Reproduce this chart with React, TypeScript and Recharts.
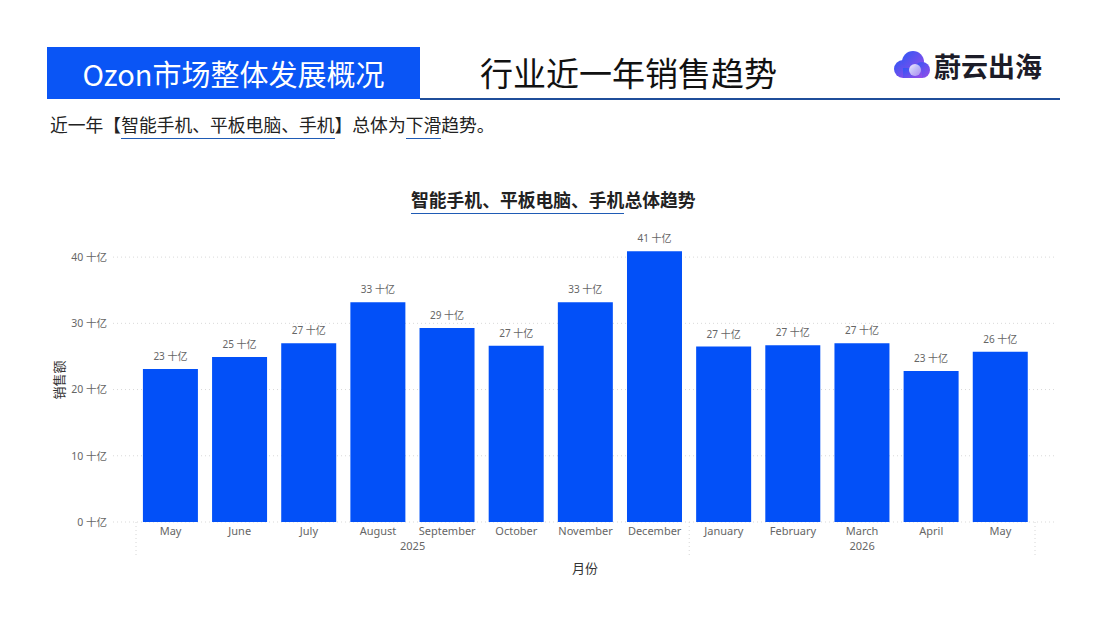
import { BarChart, Bar, XAxis, YAxis, CartesianGrid, LabelList } from "recharts";

// monthly sales of smartphones / tablets / phones, in 十亿
const months = [
    "May", "June", "July", "August", "September", "October", "November", "December",
    "January", "February", "March", "April", "May",
];
const years = [
    "2025", "2025", "2025", "2025", "2025", "2025", "2025", "2025",
    "2026", "2026", "2026", "2026", "2026",
];
const sales = [23.1, 24.9, 27.0, 33.2, 29.3, 26.6, 33.2, 40.9, 26.5, 26.7, 27.0, 22.8, 25.7];
const yTicks = [0, 10, 20, 30, 40];

const data = months.map((m, i) => ({ key: `${m}-${years[i]}`, month: m, year: years[i], sales: sales[i] }));

const W = 1107;
const H = 640;
const MARGIN = { top: 224, right: 52, bottom: 78, left: 53 };
const Y_AXIS_W = 60;
const PAD = { left: 23, right: 20 };
const BAND = (W - MARGIN.left - MARGIN.right - Y_AXIS_W - PAD.left - PAD.right) / months.length;

const BLUE = "#0250F8";
const FONT = "'Noto Sans', 'Noto Sans CJK SC', sans-serif";
const CJK = "'Noto Sans CJK SC', 'Noto Sans', sans-serif";

function MonthTick(props: any) {
    const { x, y, index } = props;
    const yr = years[index];
    const first = years.indexOf(yr);
    const last = years.lastIndexOf(yr);
    const mid = (first + last) / 2;
    const showYear = index === Math.floor(mid);
    const yearX = x + (mid - Math.floor(mid)) * BAND;
    return (
        <g>
            <text x={x} y={y + 13} textAnchor="middle" fontSize={11} fill="#666" fontFamily={FONT}>
                {months[index]}
            </text>
            {showYear && (
                <text x={yearX} y={y + 28} textAnchor="middle" fontSize={11} fill="#666" fontFamily={FONT}>
                    {yr}
                </text>
            )}
            {index === first && (
                <line x1={x - BAND / 2} x2={x - BAND / 2} y1={y} y2={y + 34} stroke="#d6d6d6" strokeDasharray="1 3" />
            )}
            {index === months.length - 1 && (
                <line x1={x + BAND / 2} x2={x + BAND / 2} y1={y} y2={y + 34} stroke="#d6d6d6" strokeDasharray="1 3" />
            )}
        </g>
    );
}

function ValueLabel(props: any) {
    const { x, y, width, value } = props;
    return (
        <text x={x + width / 2} y={y - 9} textAnchor="middle" fontSize={10} fill="#666" fontFamily={FONT}>
            {`${Math.round(Number(value))} 十亿`}
        </text>
    );
}

function CloudLogo() {
    return (
        <svg width={40} height={32} viewBox="0 0 40 32">
            <defs>
                <linearGradient id="cl" x1="0" y1="0" x2="1" y2="1">
                    <stop offset="0%" stopColor="#2f56f5" />
                    <stop offset="100%" stopColor="#9a4de8" />
                </linearGradient>
                <linearGradient id="cl2" x1="0" y1="0" x2="1" y2="1">
                    <stop offset="0%" stopColor="#ffffff" stopOpacity={0.9} />
                    <stop offset="100%" stopColor="#c9b8f5" stopOpacity={0.6} />
                </linearGradient>
            </defs>
            <circle cx={11} cy={19} r={9} fill="url(#cl)" />
            <circle cx={21} cy={12} r={11} fill="url(#cl)" />
            <circle cx={30} cy={20} r={8} fill="url(#cl)" />
            <rect x={11} y={18} width={19} height={10} fill="url(#cl)" />
            <circle cx={23} cy={20} r={6} fill="url(#cl2)" />
        </svg>
    );
}

const ul = { borderBottom: "1.5px solid #1F5BB5", paddingBottom: 1 };

export default function App() {
    return (
        <div style={{ position: "fixed", left: 0, top: 0, width: W, height: H, background: "#fff", overflow: "hidden", fontFamily: CJK }}>
            {/* header */}
            <div style={{ position: "absolute", left: 47, top: 47, width: 373, height: 52, background: "#0A55F5", color: "#fff", display: "flex", alignItems: "center", justifyContent: "center", fontSize: 29 }}>
                Ozon市场整体发展概况
            </div>
            <div style={{ position: "absolute", left: 420, top: 98, width: 640, height: 2, background: "#1F4E9A" }} />
            <div style={{ position: "absolute", left: 480, top: 52, fontSize: 33, lineHeight: "40px", color: "#111" }}>行业近一年销售趋势</div>
            <div style={{ position: "absolute", left: 892, top: 50, display: "flex", alignItems: "center", gap: 2 }}>
                <CloudLogo />
                <span style={{ fontSize: 27, fontWeight: 700, color: "#1c1c28", lineHeight: "32px" }}>蔚云出海</span>
            </div>

            {/* summary */}
            <div style={{ position: "absolute", left: 50, top: 113, fontSize: 17.8, lineHeight: "22px", color: "#222", whiteSpace: "nowrap" }}>
                近一年【<span style={ul}>智能手机、平板电脑、手机</span>】总体为<span style={ul}>下滑</span>趋势。
            </div>

            {/* chart title */}
            <div style={{ position: "absolute", left: 411, top: 187, fontSize: 17.8, fontWeight: 700, lineHeight: "24px", color: "#222", whiteSpace: "nowrap" }}>
                <span style={ul}>智能手机、平板电脑、手机</span>总体趋势
            </div>

            <div style={{ position: "absolute", left: 58, top: 380, transform: "translate(-50%, -50%) rotate(-90deg)", fontSize: 13, color: "#333", whiteSpace: "nowrap" }}>
                销售额
            </div>
            <div style={{ position: "absolute", left: 585, top: 567, transform: "translate(-50%, -50%)", fontSize: 13, color: "#333" }}>
                月份
            </div>

            <div style={{ position: "absolute", left: 0, top: 0 }}>
                <BarChart width={W} height={H} data={data} margin={MARGIN} barCategoryGap="10%">
                    <CartesianGrid vertical={false} stroke="#d9d9d9" strokeDasharray="1 3" syncWithTicks />
                    <XAxis
                        dataKey="key"
                        interval={0}
                        axisLine={false}
                        tickLine={false}
                        tickSize={0}
                        tickMargin={0}
                        height={40}
                        padding={PAD}
                        tick={<MonthTick />}
                    />
                    <YAxis
                        width={Y_AXIS_W}
                        domain={[0, 45]}
                        ticks={yTicks}
                        axisLine={false}
                        tickLine={false}
                        tickSize={0}
                        tickMargin={6}
                        tick={{ fontSize: 10.5, fill: "#666", fontFamily: FONT }}
                        tickFormatter={(v) => `${v} 十亿`}
                    />
                    <Bar dataKey="sales" fill={BLUE} isAnimationActive={false}>
                        <LabelList dataKey="sales" content={<ValueLabel />} />
                    </Bar>
                </BarChart>
            </div>
        </div>
    );
}
